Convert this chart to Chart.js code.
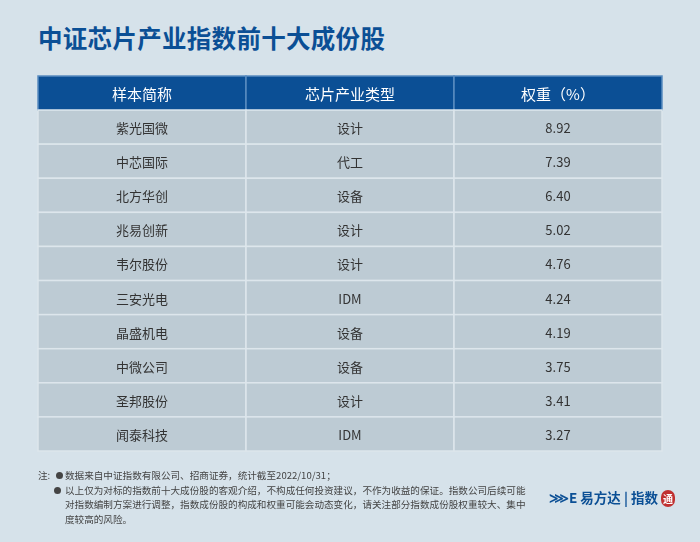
<!DOCTYPE html>
<html><head><meta charset="utf-8">
<script src="https://cdn.jsdelivr.net/npm/chart.js@4"></script>
<style>
body{margin:0;width:700px;height:542px;background:#d6e2ea;font-family:"Noto Sans CJK SC","Noto Sans",sans-serif;position:relative;overflow:hidden}
#t{position:absolute;left:38px;top:20px;font-size:24.5px;font-weight:bold;color:#0b4f95;letter-spacing:0.3px}
canvas{position:absolute;left:0;top:0}
#n{position:absolute;left:38px;top:468px;font-size:9.6px;color:#444;line-height:14.5px}
#n div{padding-left:27px;width:464px;position:relative}
#n b{position:absolute;left:16px;top:4px;width:7px;height:7px;border-radius:50%;background:#444}
#logo{position:absolute;left:549px;top:487px;font-size:13.5px;font-weight:bold;color:#0b4f95;white-space:nowrap}
#logo span{border-radius:8px;font-size:10px;padding:1px 2px;background:#c03030;color:#fff}
</style></head><body>
<div id="t">中证芯片产业指数前十大成份股</div>
<canvas id="c" width="700" height="542"></canvas>
<div id="n"><span style="position:absolute;left:0">注:</span><div><b style="left:18px"></b>数据来自中证指数有限公司、招商证券，统计截至2022/10/31；</div><div><b></b>以上仅为对标的指数前十大成份股的客观介绍，不构成任何投资建议，不作为收益的保证。指数公司后续可能对指数编制方案进行调整，指数成份股的构成和权重可能会动态变化，请关注部分指数成份股权重较大、集中度较高的风险。</div></div>
<div id="logo">⋙E 易方达 <span style="background:none;color:#0b4f95;font-size:13.5px;padding:0">| 指数</span> <span>通</span></div>
<script>
const headers=["样本简称","芯片产业类型","权重（%）"];
const names=["紫光国微","中芯国际","北方华创","兆易创新","韦尔股份","三安光电","晶盛机电","中微公司","圣邦股份","闻泰科技"];
const types=["设计","代工","设备","设计","设计","IDM","设备","设备","设计","IDM"];
const weights=[8.92,7.39,6.40,5.02,4.76,4.24,4.19,3.75,3.41,3.27];
const colBounds=[0,1,2,3];
const tablePlugin={id:'table',afterDraw(ch){
 const ctx=ch.ctx,x=ch.scales.x,y=ch.scales.y;
 const rows=[headers].concat(names.map((n,i)=>[n,types[i],weights[i].toFixed(2)]));
 rows.forEach((r,ri)=>{
  for(let ci=0;ci<3;ci++){
   const x0=x.getPixelForValue(colBounds[ci]),x1=x.getPixelForValue(colBounds[ci+1]);
   const y0=y.getPixelForValue(ri),y1=y.getPixelForValue(ri+1);
   ctx.fillStyle=ri===0?'#0b4f95':'#bdcbd4';
   ctx.fillRect(x0,y0,x1-x0,y1-y0);
   ctx.strokeStyle=ri===0?'#5a8cc0':'#dde6ec';ctx.lineWidth=1.5;
   ctx.strokeRect(x0,y0,x1-x0,y1-y0);
   ctx.fillStyle=ri===0?'#ffffff':'#333333';
   ctx.font=(ri===0?'15px':'13px')+' "Noto Sans CJK SC","Noto Sans",sans-serif';
   ctx.textAlign='center';ctx.textBaseline='middle';
   ctx.fillText(r[ci],(x0+x1)/2,(y0+y1)/2+1);
  }
 });
}};
new Chart(document.getElementById('c'),{type:'scatter',data:{datasets:[{data:[]}]},
 options:{responsive:false,animation:false,layout:{padding:{left:38,right:38,top:76,bottom:91}},
 plugins:{legend:{display:false},tooltip:{enabled:false}},
 scales:{x:{type:'linear',min:0,max:3,display:false},y:{type:'linear',min:0,max:11,reverse:true,display:false}}},
 plugins:[tablePlugin]});
</script></body></html>
